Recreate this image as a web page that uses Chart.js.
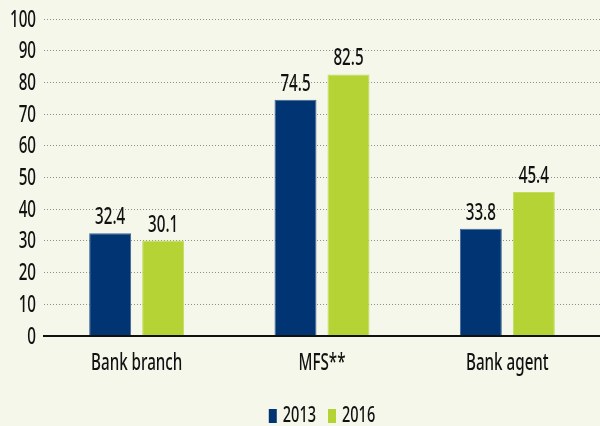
<!DOCTYPE html>
<html>
<head>
<meta charset="utf-8">
<script src="https://cdn.jsdelivr.net/npm/chart.js@4/dist/chart.umd.min.js"></script>
<style>
  html, body { margin: 0; padding: 0; background: #f4f7ea; }
  #wrap { width: 600px; height: 426px; }
</style>
</head>
<body>
<div id="wrap"><canvas id="graph" width="600" height="426"></canvas></div>
<script>
var categories = ['Bank branch', 'MFS**', 'Bank agent'];
var years = ['2013', '2016'];
var values2013 = [32.4, 74.5, 33.8];
var values2016 = [30.1, 82.5, 45.4];
var yTicks = [0, 10, 20, 30, 40, 50, 60, 70, 80, 90, 100];
var colors = ['#003473', '#b5d335'];

var FONT = "'Noto Sans', sans-serif";
var WEIGHT = '500';
var SQUEEZE = 0.66; // narrow the glyphs horizontally

// draw condensed text by squeezing the x axis of the context
function narrowText(ctx, text, x, y, size, align, baseline) {
  ctx.save();
  ctx.font = WEIGHT + ' ' + size + 'px ' + FONT;
  ctx.fillStyle = '#111';
  ctx.textAlign = align;
  ctx.textBaseline = baseline;
  ctx.translate(x, y);
  ctx.scale(SQUEEZE, 1);
  ctx.fillText(text, 0, 0);
  ctx.restore();
}

function narrowWidth(ctx, text, size) {
  ctx.save();
  ctx.font = WEIGHT + ' ' + size + 'px ' + FONT;
  var w = ctx.measureText(text).width * SQUEEZE;
  ctx.restore();
  return w;
}

// axis labels, values over bars and the legend row
var textLayer = {
  id: 'textLayer',
  afterDraw: function(chart) {
    var ctx = chart.ctx;
    var area = chart.chartArea;
    var yScale = chart.scales.y;
    var xScale = chart.scales.x;

    yTicks.forEach(function(v) {
      narrowText(ctx, String(v), area.left - 8, yScale.getPixelForValue(v) + 1, 23, 'right', 'middle');
    });

    categories.forEach(function(c, i) {
      narrowText(ctx, c, xScale.getPixelForValue(i), area.bottom + 34, 23, 'center', 'alphabetic');
    });

    chart.data.datasets.forEach(function(ds, i) {
      chart.getDatasetMeta(i).data.forEach(function(bar, j) {
        narrowText(ctx, ds.data[j].toFixed(1), bar.x, bar.y - 9, 23, 'center', 'alphabetic');
      });
    });

    // legend, centred under the plot
    var boxW = 8, boxH = 14, gapBox = 6, gapItem = 12, baseY = 422;
    var total = 0;
    years.forEach(function(y, i) {
      total += boxW + gapBox + narrowWidth(ctx, y, 22);
      if (i < years.length - 1) total += gapItem;
    });
    var x = 322 - total / 2;
    years.forEach(function(y, i) {
      ctx.fillStyle = colors[i];
      ctx.fillRect(x, baseY - boxH + 1, boxW, boxH);
      x += boxW + gapBox;
      narrowText(ctx, y, x, baseY, 22, 'left', 'alphabetic');
      x += narrowWidth(ctx, y, 22) + gapItem;
    });
  }
};

var ctx = document.getElementById('graph').getContext('2d');
var chart = new Chart(ctx, {
  type: 'bar',
  data: {
    labels: categories,
    datasets: [{
      label: years[0],
      data: values2013,
      backgroundColor: colors[0],
      borderColor: '#3f6394',
      borderWidth: { top: 1, left: 1, right: 1, bottom: 0 }
    }, {
      label: years[1],
      data: values2016,
      backgroundColor: colors[1],
      borderColor: '#c2dc5c',
      borderWidth: { top: 1, left: 1, right: 1, bottom: 0 }
    }]
  },
  options: {
    responsive: false,
    animation: false,
    categoryPercentage: 0.572,
    barPercentage: 0.792,
    layout: { padding: { top: 19, right: 0, left: 0, bottom: 0 } },
    plugins: {
      legend: { display: false },
      tooltip: { enabled: false }
    },
    scales: {
      x: {
        grid: { display: false },
        border: { color: '#111', width: 2, z: 1 },
        ticks: { display: false },
        afterFit: function(axis) { axis.height = 90; }
      },
      y: {
        min: 0,
        max: 100,
        afterBuildTicks: function(axis) {
          axis.ticks = yTicks.map(function(v) { return { value: v }; });
        },
        border: { display: false, dash: [1, 2] },
        grid: {
          color: '#8d8d8d',
          lineWidth: 1,
          drawTicks: false
        },
        ticks: { display: false },
        afterFit: function(axis) { axis.width = 44; }
      }
    }
  },
  plugins: [textLayer]
});
</script>
</body>
</html>
